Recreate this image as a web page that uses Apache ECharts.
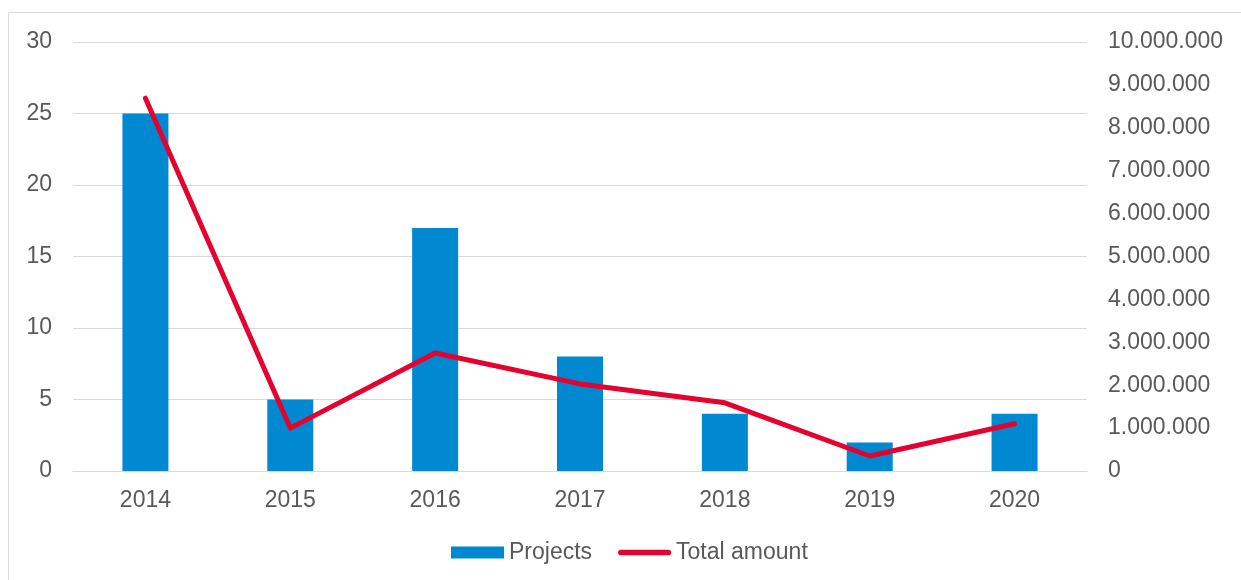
<!DOCTYPE html>
<html>
<head>
<meta charset="utf-8">
<script src="https://cdn.jsdelivr.net/npm/echarts@6/dist/echarts.min.js"></script>
<style>
  html, body { margin: 0; padding: 0; background: #fff; }
  #chart { width: 1241px; height: 580px; }
</style>
</head>
<body>
<div id="chart"></div>
<script>
var years = ['2014', '2015', '2016', '2017', '2018', '2019', '2020'];
var projects = [25, 5, 17, 8, 4, 2, 4];
var totalAmount = [8690000, 1000000, 2750000, 2030000, 1590000, 350000, 1100000];

var textColor = '#595959';
var font = 'Liberation Sans, Arial, sans-serif';

function dotThousands(v) {
  return String(v).replace(/\B(?=(\d{3})+(?!\d))/g, '.');
}

var myChart = echarts.init(document.getElementById('chart'));

var option = {
  animation: false,
  textStyle: { fontFamily: font },
  graphic: [{
    type: 'rect',
    shape: { x: 8.5, y: 12.5, width: 1260, height: 600 },
    style: { fill: 'none', stroke: '#d9d9d9', lineWidth: 1 },
    silent: true
  }],
  grid: { left: 73, right: 154, top: 42, bottom: 109 },
  legend: {
    left: 446,
    top: 536,
    itemWidth: 53,
    itemHeight: 12,
    itemGap: 26,
    symbolKeepAspect: true,
    textStyle: { color: textColor, fontSize: 23, fontFamily: font },
    data: [
      { name: 'Projects', icon: 'rect' },
      { name: 'Total amount', icon: 'path://M3,0 H53 A3,3 0 0 1 53,6 H3 A3,3 0 0 1 3,0 Z' }
    ]
  },
  xAxis: {
    type: 'category',
    data: years,
    axisLine: { lineStyle: { color: '#d9d9d9', width: 1 } },
    axisTick: { show: false },
    axisLabel: { color: textColor, fontSize: 23, margin: 18 }
  },
  yAxis: [{
    type: 'value',
    min: 0,
    max: 30,
    interval: 5,
    axisLine: { show: false },
    axisTick: { show: false },
    splitLine: { lineStyle: { color: '#d9d9d9', width: 1 } },
    axisLabel: { color: textColor, fontSize: 23, margin: 21 }
  }, {
    type: 'value',
    min: 0,
    max: 10000000,
    interval: 1000000,
    axisLine: { show: false },
    axisTick: { show: false },
    splitLine: { show: false },
    axisLabel: {
      color: textColor, fontSize: 23, margin: 21,
      formatter: function (v) { return dotThousands(v); }
    }
  }],
  series: [{
    name: 'Projects',
    type: 'bar',
    data: projects,
    barWidth: 46,
    itemStyle: { color: '#0088d1' }
  }, {
    name: 'Total amount',
    type: 'line',
    yAxisIndex: 1,
    data: totalAmount,
    symbol: 'none',
    lineStyle: { color: '#e4032e', width: 5, cap: 'round', join: 'round' },
    itemStyle: { color: '#e4032e' }
  }]
};

myChart.setOption(option);
</script>
</body>
</html>
